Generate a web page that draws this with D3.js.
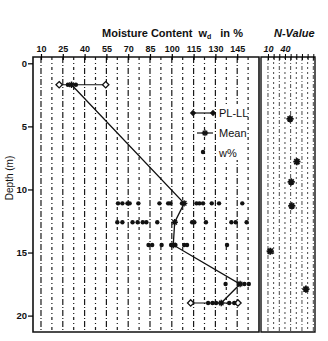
<!DOCTYPE html>
<html>
<head>
<meta charset="utf-8">
<script src="https://cdn.jsdelivr.net/npm/d3@7"></script>
<style>
  body { margin: 0; background: #fff; }
  svg { display: block; }
  text { font-family: "Liberation Sans", Arial, sans-serif; fill: #111; }
</style>
</head>
<body>
<div id="chart"></div>
<script>
// tick labels
const moistureTicks = [10, 25, 40, 55, 70, 85, 100, 115, 130, 145];
const depthTicks = [0, 5, 10, 15, 20];
const nTicks = [10, 40];

// sampled depths (m) with mean moisture content (%)
const sampleDepths = [1.7, 11.1, 12.6, 14.4, 17.5, 19.0];
const meanW = [31, 108.5, 102, 101, 147, 134];

// individual moisture readings per sampled depth
const wValues = [
  [28.5, 34],
  [63, 66, 69.5, 71, 77, 91.5, 97.5, 99, 107, 117, 119, 121.5, 127.5, 132.5, 148.5],
  [62.5, 66, 73, 76.5, 80, 82.5, 90, 114, 115.5, 123.5, 141, 144, 151.5],
  [84, 86.5, 93, 99.5, 102.5, 108.5, 110.5, 138],
  [137, 146, 150, 153],
  [125, 128, 130.5, 139.5, 143]
];

// plastic / liquid limits
const limitDepths = [1.7, 19.0];
const plasticLimit = [22.5, 113];
const liquidLimit = [54.5, 145.5];

// SPT N-values
const sptDepths = [4.4, 7.8, 9.4, 11.3, 14.9, 17.9];
const nValues = [49, 61, 51, 52, 14, 77];

const width = 328, height = 341;
const plot = { left: 33, right: 259, top: 57, bottom: 332 };
const nPanel = { left: 261, right: 315 };

const x = d3.scaleLinear().domain([4.5, 160]).range([plot.left, plot.right]);
const y = d3.scaleLinear().domain([-0.5, 21.3]).range([plot.top, plot.bottom]);
const xn = d3.scaleLinear().domain([-2.3, 93]).range([nPanel.left, nPanel.right]);

// 8-armed asterisk, drawn as strokes
function asterisk(r) {
  const d = r * Math.SQRT1_2;
  return `M${-r},0L${r},0M0,${-r}L0,${r}M${-d},${-d}L${d},${d}M${-d},${d}L${d},${-d}`;
}
function diamond(r) {
  return `M0,${-r}L${r},0L0,${r}L${-r},0Z`;
}

const svg = d3.select("#chart").append("svg")
  .attr("width", width)
  .attr("height", height)
  .attr("viewBox", [0, 0, width, height]);

svg.append("rect").attr("width", width).attr("height", height).attr("fill", "#fff");

// dash-dot grid, left panel
svg.append("g")
  .selectAll("line")
  .data(d3.range(10, 153, 7.5))
  .join("line")
  .attr("x1", d => x(d)).attr("x2", d => x(d))
  .attr("y1", plot.top).attr("y2", plot.bottom)
  .attr("stroke", "#1a1a1a")
  .attr("stroke-width", 1.2)
  .attr("stroke-dasharray", (d, i) => i % 2 ? "3 3 1 3" : "6 2 1 2");

// dash grid, N-value panel
svg.append("g")
  .selectAll("line")
  .data(d3.range(10, 91, 10))
  .join("line")
  .attr("x1", d => xn(d)).attr("x2", d => xn(d))
  .attr("y1", plot.top).attr("y2", plot.bottom)
  .attr("stroke", "#333")
  .attr("stroke-width", 0.9)
  .attr("stroke-dasharray", (d, i) => i % 2 ? "2 3" : "4 2 1 2");

// frames
svg.append("path")
  .attr("d", `M${plot.left},${plot.top}H${plot.right}V${plot.bottom}H${plot.left}Z`)
  .attr("fill", "none").attr("stroke", "#111").attr("stroke-width", 1.6);
svg.append("path")
  .attr("d", `M${nPanel.left},${plot.top}H${nPanel.right}V${plot.bottom}H${nPanel.left}Z`)
  .attr("fill", "none").attr("stroke", "#111").attr("stroke-width", 1.4);

// top axis, moisture
const gx = svg.append("g")
  .attr("transform", `translate(0,${plot.top})`)
  .call(d3.axisTop(x).tickValues(moistureTicks).tickSize(3).tickPadding(2).tickSizeOuter(0));
gx.select(".domain").remove();
gx.selectAll(".tick line").attr("y1", 3).attr("stroke-width", 1.2);
gx.selectAll(".tick text")
  .style("font-size", "9px").style("font-weight", "bold")
  .attr("fill", "#111");

// top axis, N-value
const gn = svg.append("g")
  .attr("transform", `translate(0,${plot.top})`)
  .call(d3.axisTop(xn).tickValues(d3.range(10, 91, 10)).tickSize(3).tickPadding(2).tickSizeOuter(0)
    .tickFormat(d => nTicks.includes(d) ? d : ""));
gn.select(".domain").remove();
gn.selectAll(".tick line").attr("y1", 3).attr("stroke-width", 1);
gn.selectAll(".tick text")
  .style("font-size", "9px").style("font-weight", "bold").style("font-style", "italic")
  .attr("fill", "#111");

// left axis, depth
const gy = svg.append("g")
  .attr("transform", `translate(${plot.left},0)`)
  .call(d3.axisLeft(y).tickValues(depthTicks).tickSize(5).tickPadding(1).tickSizeOuter(0));
gy.select(".domain").remove();
gy.selectAll(".tick line").attr("stroke-width", 1.2);
gy.selectAll(".tick text")
  .style("font-size", "9.5px").style("font-weight", "bold")
  .attr("fill", "#111");

// titles
const title = svg.append("text")
  .attr("x", 102).attr("y", 37)
  .style("font-size", "11px").style("font-weight", "bold");
title.append("tspan").text("Moisture Content");
title.append("tspan").text("w").attr("dx", 6);
title.append("tspan").text("d").attr("dy", 2).style("font-size", "7px");
title.append("tspan").text("in %").attr("dx", 9).attr("dy", -2);

svg.append("text")
  .attr("x", 274).attr("y", 37)
  .style("font-size", "11px").style("font-weight", "bold").style("font-style", "italic")
  .text("N-Value");

svg.append("text")
  .attr("transform", `translate(13,178) rotate(-90)`)
  .attr("text-anchor", "middle")
  .style("font-size", "10px")
  .text("Depth (m)");

// PL-LL ranges
const limits = limitDepths.map((d, i) => ({ depth: d, pl: plasticLimit[i], ll: liquidLimit[i] }));
const lg = svg.append("g");
lg.selectAll("line")
  .data(limits)
  .join("line")
  .attr("x1", d => x(d.pl)).attr("x2", d => x(d.ll))
  .attr("y1", d => y(d.depth)).attr("y2", d => y(d.depth))
  .attr("stroke", "#111").attr("stroke-width", 1.2);
lg.selectAll("path")
  .data(limits.flatMap(d => [[d.pl, d.depth], [d.ll, d.depth]]))
  .join("path")
  .attr("d", diamond(3.2))
  .attr("transform", d => `translate(${x(d[0])},${y(d[1])})`)
  .attr("fill", "#fff").attr("stroke", "#111").attr("stroke-width", 1.3);

// individual readings
const dots = sampleDepths.flatMap((d, i) => wValues[i].map(w => [w, d]));
svg.append("g")
  .selectAll("circle")
  .data(dots)
  .join("circle")
  .attr("cx", d => x(d[0]))
  .attr("cy", d => y(d[1]))
  .attr("r", 2.2)
  .attr("fill", "#111");

// mean line
const meanPts = sampleDepths.map((d, i) => [meanW[i], d]);
svg.append("path")
  .datum(meanPts)
  .attr("d", d3.line().x(d => x(d[0])).y(d => y(d[1])))
  .attr("fill", "none").attr("stroke", "#111").attr("stroke-width", 1.3);
svg.append("g")
  .selectAll("path")
  .data(meanPts)
  .join("path")
  .attr("d", asterisk(3.2))
  .attr("transform", d => `translate(${x(d[0])},${y(d[1])})`)
  .attr("stroke", "#111").attr("stroke-width", 1.4);

// N-values
svg.append("g")
  .selectAll("path")
  .data(sptDepths.map((d, i) => [nValues[i], d]))
  .join("path")
  .attr("d", asterisk(3.6))
  .attr("transform", d => `translate(${xn(d[0])},${y(d[1])})`)
  .attr("stroke", "#111").attr("stroke-width", 1.8);

// legend
const leg = svg.append("g");
leg.append("rect").attr("x", 217).attr("y", 104).attr("width", 29).attr("height", 56).attr("fill", "#fff");
leg.append("line").attr("x1", 193).attr("x2", 213).attr("y1", 113).attr("y2", 113)
  .attr("stroke", "#111").attr("stroke-width", 1.2);
leg.selectAll(".ld").data([193, 213]).join("path").attr("class", "ld")
  .attr("d", diamond(3.2)).attr("transform", d => `translate(${d},113)`).attr("fill", "#111");
leg.append("line").attr("x1", 197).attr("x2", 213).attr("y1", 133).attr("y2", 133)
  .attr("stroke", "#111").attr("stroke-width", 1.2);
leg.append("path").attr("d", asterisk(3.2)).attr("transform", "translate(205,133)")
  .attr("stroke", "#111").attr("stroke-width", 1.3);
leg.append("circle").attr("cx", 203).attr("cy", 152).attr("r", 2.2).attr("fill", "#111");
leg.selectAll("text")
  .data([["PL-LL", 113], ["Mean", 133], ["w%", 153]])
  .join("text")
  .attr("x", 219).attr("y", d => d[1] + 4)
  .style("font-size", "11px")
  .text(d => d[0]);
</script>
</body>
</html>
